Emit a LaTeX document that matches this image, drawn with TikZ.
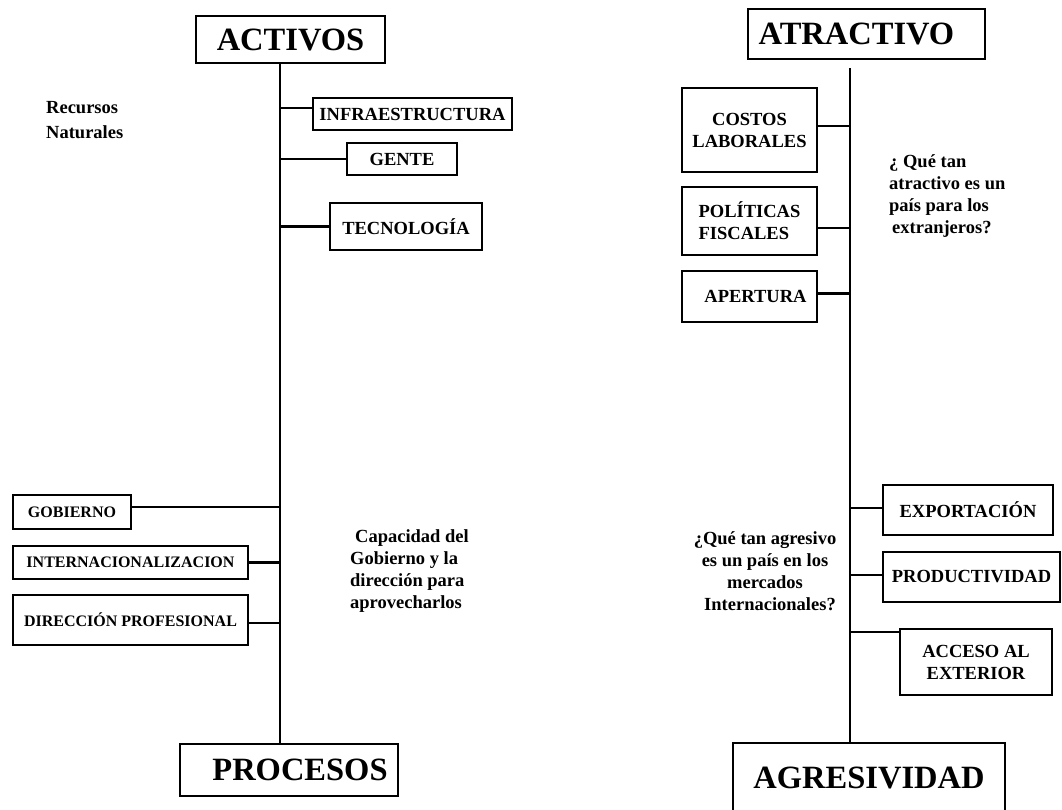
\documentclass[tikz,border=0pt]{standalone}
\usepackage{fontspec}
\setmainfont{Liberation Serif}
\begin{document}
\begin{tikzpicture}[x=1pt, y=-1pt, line width=2.4pt,
        caja/.style={draw, inner sep=0pt, align=center, font=\bfseries\fontsize{18.5}{22}\selectfont},
        cajagrande/.style={caja, font=\bfseries\fontsize{32.5}{36}\selectfont},
        cajachica/.style={caja, font=\bfseries\fontsize{16}{19}\selectfont},
        nota/.style={inner sep=0pt, font=\bfseries\fontsize{18.5}{22}\selectfont}]
        \useasboundingbox (0,0) rectangle (1062,809);
        \coordinate (ejeizq) at (280,0);
        \coordinate (ejeder) at (850,0);

        \node[cajagrande, minimum width=189, minimum height=47] (act) at (290.5,39.5) {ACTIVOS};
        \node[cajagrande, minimum width=218, minimum height=52] (proc) at (289,770) {\hspace*{22pt}PROCESOS};
        \node[caja, minimum width=199, minimum height=32] (infra) at (412.5,114) {INFRAESTRUCTURA};
        \node[caja, minimum width=110, minimum height=32] (gente) at (402,159) {GENTE};
        \node[caja, minimum width=152, minimum height=47] (tecno) at (406,226.5) {TECNOLOGÍA};
        \node[cajachica, minimum width=118, minimum height=34] (gob) at (72,512) {GOBIERNO};
        \node[cajachica, minimum width=235, minimum height=33] (inter) at (130.5,562.5) {INTERNACIONALIZACION};
        \node[cajachica, minimum width=235, minimum height=50] (dir) at (130.5,620) {DIRECCIÓN PROFESIONAL};
        \node[nota, anchor=west, align=left, font=\bfseries\fontsize{18.5}{25}\selectfont] (recursos) at (45,120.5) {Recursos\\Naturales};
        \node[nota, anchor=west, align=left] (capacidad) at (349,571.5) {\hspace*{5pt}Capacidad del\\Gobierno y la\\dirección para\\aprovecharlos};

        \draw[line width=2.8pt] (act.south -| ejeizq) -- (proc.north -| ejeizq);
        \draw ([yshift=6pt]infra.west) -- ([yshift=6pt]infra.west -| ejeizq);
        \draw (gente.west) -- (gente.west -| ejeizq);
        \draw (tecno.west) -- (tecno.west -| ejeizq);
        \draw ([yshift=5pt]gob.east) -- ([yshift=5pt]gob.east -| ejeizq);
        \draw (inter.east) -- (inter.east -| ejeizq);
        \draw ([yshift=-3pt]dir.east) -- ([yshift=-3pt]dir.east -| ejeizq);

        \node[cajagrande, minimum width=237, minimum height=50] (atr) at (866.5,34) {ATRACTIVO\hspace*{20pt}};
        \node[cajagrande, minimum width=272, minimum height=69] (agr) at (869,777.5) {AGRESIVIDAD};
        \node[caja, minimum width=135, minimum height=84] (costos) at (749.5,130) {COSTOS\\LABORALES};
        \node[caja, align=left, minimum width=135, minimum height=68] (polit) at (749.5,221) {POLÍTICAS\\FISCALES};
        \node[caja, minimum width=135, minimum height=51] (apert) at (749.5,296.5) {\hspace*{12pt}APERTURA};
        \node[caja, minimum width=170, minimum height=50] (export) at (968,510) {EXPORTACIÓN};
        \node[caja, minimum width=177, minimum height=50] (produc) at (971.5,577) {PRODUCTIVIDAD};
        \node[caja, minimum width=152, minimum height=66] (acceso) at (976,662) {ACCESO AL\\EXTERIOR};
        \node[nota, anchor=west, align=left] (atrnota) at (888,196) {¿ Qué tan\\atractivo es un\\país para los\\\hspace*{3pt}extranjeros?};
        \node[nota, align=center] (agrnota) at (765,571.5) {¿Qué tan agresivo\\es un país en los\\mercados\\\hspace*{10pt}Internacionales?};

        \draw[line width=2.8pt] ([yshift=-8pt]atr.south -| ejeder) -- (agr.north -| ejeder);
        \draw ([yshift=4pt]costos.east) -- ([yshift=4pt]costos.east -| ejeder);
        \draw ([yshift=-7pt]polit.east) -- ([yshift=-7pt]polit.east -| ejeder);
        \draw ([yshift=3pt]apert.east) -- ([yshift=3pt]apert.east -| ejeder);
        \draw ([yshift=2pt]export.west) -- ([yshift=2pt]export.west -| ejeder);
        \draw ([yshift=2pt]produc.west) -- ([yshift=2pt]produc.west -| ejeder);
        \draw ([yshift=-4pt]acceso.north west) -- ([yshift=-4pt]acceso.north west -| ejeder);
\end{tikzpicture}
\end{document}
